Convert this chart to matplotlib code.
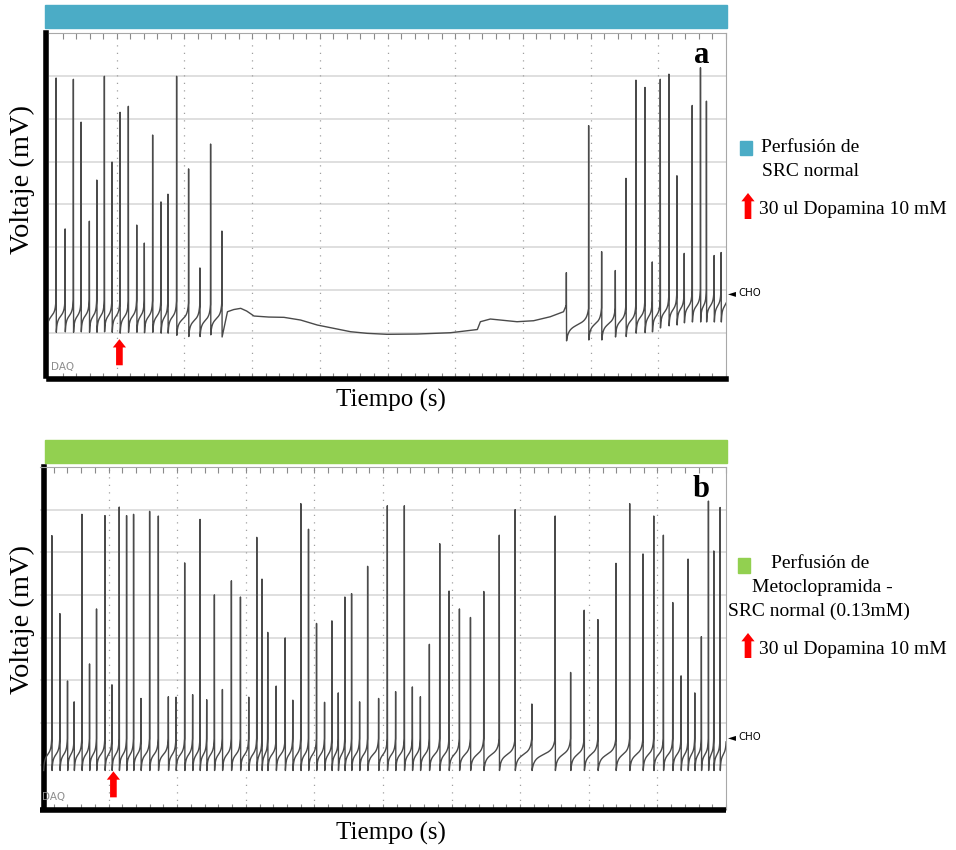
import numpy as np
import matplotlib
matplotlib.use("Agg")
import matplotlib.pyplot as plt
from matplotlib.patches import Rectangle, FancyArrowPatch

# ---------------- data ----------------
# Panel a: SRC normal perfusion, dopamine at t≈10 s silences firing until ~76 s
a_spike_t = [1.03, 2.36, 3.58, 4.72, 5.94, 7.04, 8.16, 9.29, 10.47, 11.70,
             12.94, 14.06, 15.29, 16.52, 17.55, 18.83, 20.60, 22.27, 23.85, 25.52,
             76.40, 79.69, 81.61, 83.63, 85.21, 86.68, 88.01, 89.09, 90.27, 91.55,
             92.73, 93.81, 94.99, 96.21, 97.09, 98.23, 99.26]
a_spike_peak = [69.5, 34.3, 69.2, 59.2, 36.1, 45.7, 69.9, 49.9, 61.5, 62.9,
                35.2, 31.0, 56.2, 40.6, 42.4, 69.9, 48.3, 25.2, 54.1, 33.8,
                24.1, 58.4, 29.0, 24.6, 46.1, 69.0, 67.3, 26.6, 69.2, 70.4,
                46.7, 28.6, 63.1, 71.9, 64.1, 28.1, 28.8]
a_spike_trough = [10.2, 10.3, 10.2, 10.3, 10.2, 10.2, 10.3, 10.2, 10.0, 10.2,
                  10.2, 10.1, 10.2, 10.0, 10.0, 9.5, 9.2, 9.2, 9.6, 9.1,
                  8.2, 8.4, 8.4, 9.1, 9.2, 10.0, 10.1, 10.3, 11.2, 11.7,
                  11.9, 12.4, 12.6, 12.6, 12.6, 12.6, 12.6]
# Quiescent membrane potential between 25.5 s and 76.4 s
a_quiet_t = [26.36, 27.29, 28.32, 29.20, 30.28, 32.45, 34.71, 37.17, 39.63, 42.08,
             44.54, 47.01, 49.96, 54.38, 59.29, 62.73, 63.27, 63.72, 65.19, 69.13,
             71.58, 74.04, 76.00, 76.35]
a_quiet_v = [14.99, 15.50, 15.78, 15.15, 13.99, 13.75, 13.68, 13.05, 11.89, 11.12,
             10.33, 9.95, 9.72, 9.79, 10.09, 10.72, 10.84, 12.66, 13.29, 12.66,
             12.89, 13.82, 14.99, 16.30]
a_dose_t = 10.4

# Panel b: metoclopramide perfusion, firing continues after dopamine
b_spike_t = [1.71, 2.88, 3.99, 4.96, 6.09, 7.20, 8.22, 9.45, 10.47, 11.53,
             12.60, 13.62, 14.70, 15.96, 17.23, 18.69, 19.81, 21.07, 22.23, 23.31,
             24.28, 25.40, 26.57, 27.88, 29.20, 30.41, 31.58, 32.34, 33.18, 34.41,
             35.72, 36.83, 38.00, 39.12, 40.29, 41.46, 42.53, 43.46, 44.42, 45.40,
             46.57, 47.74, 49.34, 50.61, 51.82, 53.09, 54.26, 55.43, 56.74, 58.25,
             59.61, 61.12, 62.73, 64.67, 66.93, 69.24, 71.68, 75.08, 77.33, 79.31,
             81.31, 83.94, 85.94, 87.88, 89.45, 90.85, 92.22, 93.43, 94.45, 95.43,
             96.39, 97.42, 98.20, 99.12]
b_spike_peak = [63.9, 45.6, 29.8, 24.9, 68.9, 33.8, 46.7, 68.6, 28.9, 70.6,
                68.6, 68.9, 25.7, 69.6, 68.5, 26.1, 26.0, 57.5, 26.6, 67.7,
                25.4, 50.0, 27.8, 53.3, 49.5, 26.0, 63.5, 53.7, 41.2, 28.6,
                39.9, 25.3, 71.4, 65.4, 43.3, 24.8, 43.9, 27.0, 49.5, 50.3,
                24.9, 56.7, 25.7, 70.9, 27.3, 70.9, 28.4, 26.1, 38.4, 62.0,
                50.9, 46.7, 44.7, 50.8, 64.0, 70.0, 24.4, 68.5, 31.8, 46.4,
                44.2, 57.4, 71.4, 59.6, 68.5, 64.0, 48.2, 31.0, 58.4, 27.0,
                40.2, 72.0, 60.3, 70.5]
b_trough = 8.8
b_dose_t = 10.7

RISE = 7.5          # depolarisation between trough and firing threshold
XMAX, YMAX = 100, 80


def recovery(ta, tb, v_lo, v_hi, n=40, a=1.3):
    p = np.linspace(0.0, 1.0, n)
    g = 0.5 + 0.5 * np.tan(a * (2 * p - 1)) / np.tan(a)
    return list(ta + (tb - ta) * p), list(v_lo + (v_hi - v_lo) * g)


def build_trace(spk_t, peaks, troughs, quiet_t=None, quiet_v=None):
    n = len(spk_t)
    isi0 = spk_t[1] - spk_t[0]
    ts, vs = recovery(spk_t[0] - isi0, spk_t[0], troughs[0], troughs[0] + RISE)
    for i in range(n):
        t = spk_t[i]
        ts += [t + 0.02, t + 0.05]
        vs += [peaks[i], troughs[i]]
        if i < n - 1:
            t_next = spk_t[i + 1]
            if quiet_t is not None and quiet_t[0] > t and quiet_t[-1] < t_next:
                ts += list(quiet_t)
                vs += list(quiet_v)
                ts.append(t_next)
                vs.append(quiet_v[-1])
            else:
                rt, rv = recovery(t + 0.05, t_next, troughs[i], troughs[i] + RISE)
                ts += rt[1:]
                vs += rv[1:]
        else:
            rt, rv = recovery(t + 0.05, t + (t - spk_t[i - 1]), troughs[i], troughs[i] + RISE)
            ts += rt[1:]
            vs += rv[1:]
    return np.array(ts), np.array(vs)


# ---------------- figure ----------------
W, H = 956, 850
fig = plt.figure(figsize=(W / 100, H / 100), dpi=100)
SERIF = "Liberation Serif"


def fx(px):
    return px / W


def fy(py):
    return 1 - py / H


def style_axes(ax, left_out, bottom_out, bottom_cap):
    ax.set_xlim(0, XMAX)
    ax.set_ylim(0, YMAX)
    for y in range(10, YMAX, 10):
        ax.axhline(y, color="#d6d6d6", lw=1.1, zorder=0)
    for x in range(10, XMAX, 10):
        ax.axvline(x, color="#a0a0a0", lw=0.9, ls=(0, (1, 5)), zorder=0)
    ax.set_xticks(range(10, XMAX + 1, 10))
    ax.set_xticks(range(2, XMAX + 1, 2), minor=True)
    ax.set_yticks([])
    ax.tick_params(which="both", direction="in", top=True, bottom=True,
                   length=4, width=0.8, color="#8a8a8a",
                   labelbottom=False, labelleft=False)
    for side in ("left", "bottom"):
        sp = ax.spines[side]
        sp.set_linewidth(4.0)
        sp.set_color("black")
    ax.spines["left"].set_capstyle("projecting")
    ax.spines["bottom"].set_capstyle(bottom_cap)
    ax.spines["left"].set_position(("outward", left_out))
    ax.spines["bottom"].set_position(("outward", bottom_out))
    for side in ("top", "right"):
        ax.spines[side].set_linewidth(0.8)
        ax.spines[side].set_color("#a8a8a8")


def dose_arrow(ax, t, v0, v1):
    arr = FancyArrowPatch((t, v0), (t, v1),
                          arrowstyle="simple,head_length=0.6,head_width=0.95,tail_width=0.48",
                          mutation_scale=10, color="#ff0000", lw=0,
                          shrinkA=0, shrinkB=0, zorder=5)
    ax.add_patch(arr)


def panel(ax_box, bar_box, bar_color, letter, cho_v, spk_t, peaks, troughs,
          dose_t, left_out, bottom_out, bottom_cap, quiet_t=None, quiet_v=None,
          daq_xy=(0, 0)):
    # colour bar above the trace
    bx0, by0, bx1, by1 = bar_box
    fig.patches.append(Rectangle((fx(bx0), fy(by1)), fx(bx1 - bx0), (by1 - by0) / H,
                                 transform=fig.transFigure, color=bar_color, zorder=1))
    x0, y0, x1, y1 = ax_box
    ax = fig.add_axes([fx(x0), fy(y1), fx(x1 - x0), (y1 - y0) / H])
    style_axes(ax, left_out, bottom_out, bottom_cap)
    ts, vs = build_trace(spk_t, peaks, troughs, quiet_t, quiet_v)
    ax.plot(ts, vs, color="#4a4a4a", lw=1.0, zorder=3)
    dose_arrow(ax, dose_t, 2.5, 8.6)
    ax.text(0.964, 0.935, letter, transform=ax.transAxes, ha="center", va="center",
            fontsize=22, fontweight="bold", family=SERIF)
    ax.text(1.003, cho_v, "\u25c4", transform=ax.get_yaxis_transform(), fontsize=7.5,
            ha="left", va="center", clip_on=False, family="DejaVu Sans")
    ax.text(1.018, cho_v, "CHO", transform=ax.get_yaxis_transform(), fontsize=7.3,
            ha="left", va="center", clip_on=False, family="DejaVu Sans")
    ax.text(daq_xy[0], daq_xy[1], "DAQ", transform=ax.transAxes, fontsize=7.5,
            color="#8c8c8c", ha="left", va="center", family="DejaVu Sans")
    return ax


ax_a = panel((49, 33, 726, 376), (45, 5, 727, 28), "#4bacc6", "a", 19.3,
             a_spike_t, a_spike_peak, a_spike_trough, a_dose_t, 2.2, 1.8, "projecting",
             a_quiet_t, a_quiet_v, daq_xy=(0.003, 0.026))
ax_b = panel((40, 467, 726, 808), (45, 440, 727, 463), "#92d050", "b", 16.6,
             b_spike_t, b_spike_peak, [b_trough] * len(b_spike_t), b_dose_t, -3.2, 1.4, "butt",
             daq_xy=(0.003, 0.032))

# axis titles
for yc, tyc in ((179, 400), (620, 833)):
    fig.text(fx(22), fy(yc), "Voltaje (mV)", rotation=90, ha="center", va="center",
             fontsize=20.5, family=SERIF)
    fig.text(fx(391), fy(tyc), "Tiempo (s)", ha="center", va="center",
             fontsize=18, family=SERIF)


# side legends
def legend_square(x0, y0, x1, y1, color):
    fig.patches.append(Rectangle((fx(x0), fy(y1)), fx(x1 - x0), (y1 - y0) / H,
                                 transform=fig.transFigure, color=color))


def legend_arrow(xc, ytop, ybot):
    fig.patches.append(FancyArrowPatch((fx(xc), fy(ybot)), (fx(xc), fy(ytop)),
                                       transform=fig.transFigure,
                                       arrowstyle="simple,head_length=0.6,head_width=0.95,tail_width=0.48",
                                       mutation_scale=10, color="#ff0000", lw=0,
                                       shrinkA=0, shrinkB=0))


LEG = dict(fontsize=14, family=SERIF, va="center")
legend_square(740, 141, 752, 155, "#4bacc6")
fig.text(fx(810), fy(148), "Perfusión de", ha="center", **LEG)
fig.text(fx(811), fy(171), "SRC normal", ha="center", **LEG)
legend_arrow(748, 193, 219)
fig.text(fx(759), fy(209), "30 ul Dopamina 10 mM", ha="left", **LEG)

legend_square(738, 558, 750, 573, "#92d050")
fig.text(fx(820), fy(564), "Perfusión de", ha="center", **LEG)
fig.text(fx(822), fy(588), "Metoclopramida -", ha="center", **LEG)
fig.text(fx(819), fy(611), "SRC normal (0.13mM)", ha="center", **LEG)
legend_arrow(748, 633, 658)
fig.text(fx(759), fy(649), "30 ul Dopamina 10 mM", ha="left", **LEG)

fig.savefig("out.png", dpi=100, facecolor="white")
